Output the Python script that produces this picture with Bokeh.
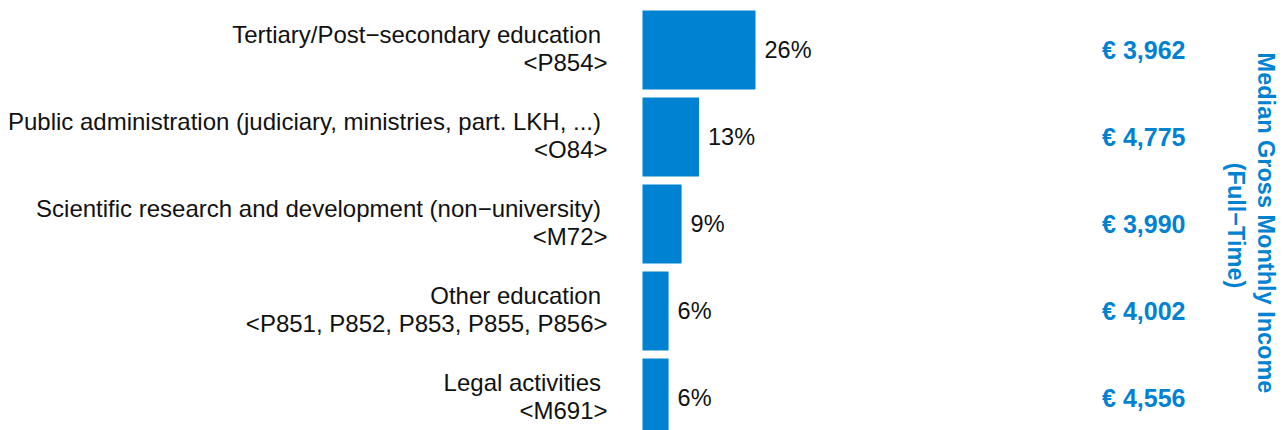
import math
from bokeh.plotting import figure
from bokeh.models import ColumnDataSource, Range1d
from bokeh.core.properties import value
from bokeh.embed import file_html
from bokeh.resources import INLINE

# ---- data ----
categories = [
    "Tertiary/Post\u2212secondary education",
    "Public administration (judiciary, ministries, part. LKH, ...)",
    "Scientific research and development (non\u2212university)",
    "Other education",
    "Legal activities",
]
codes = ["<P854>", "<O84>", "<M72>", "<P851, P852, P853, P855, P856>", "<M691>"]
shares = [26, 13, 9, 6, 6]
income = [3962, 4775, 3990, 4002, 4556]
title_lines = ["Median Gross Monthly Income", "(Full\u2212Time)"]

# ---- layout constants ----
W, H = 1284, 430
PX_PER_PCT = 113 / 26.0
ORIGIN_PX = 642          # frame x of bar base
ROW_PX = 87.0
FIRST_ROW_PX = 49.5      # frame y of first bar centre
BLUE = "#0082D2"
FONT = value("Liberation Sans")

idx = list(range(len(categories)))
src = ColumnDataSource(dict(
    y=idx,
    share=shares,
    cat=categories,
    code=codes,
    pct=[f"{s}%" for s in shares],
    eur=[f"\u20ac {v:,}" for v in income],
    zero=[0] * len(idx),
))

x_start = -ORIGIN_PX / PX_PER_PCT
x_end = x_start + W / PX_PER_PCT
y_top = -FIRST_ROW_PX / ROW_PX
y_bottom = y_top + H / ROW_PX

p = figure(width=W, height=H, output_backend="svg", toolbar_location=None,
           x_range=Range1d(x_start, x_end), y_range=Range1d(y_bottom, y_top),
           x_axis_type=None, y_axis_type=None, min_border=0,
           outline_line_color=None, background_fill_color="white",
           border_fill_color="white")
p.xgrid.visible = False
p.ygrid.visible = False

p.hbar(y="y", left="zero", right="share", height=79 / ROW_PX, source=src,
       fill_color=BLUE, line_color=None)

# category labels (two lines, right aligned left of bars)
p.text(x="zero", y="y", text="cat", source=src, x_offset=-41.5, y_offset=-16,
       text_align="right", text_baseline="alphabetic", text_font=FONT,
       text_font_size="24px", text_color="#111111")
p.text(x="zero", y="y", text="code", source=src, x_offset=-35, y_offset=12.5,
       text_align="right", text_baseline="alphabetic", text_font=FONT,
       text_font_size="24px", text_color="#111111")

# percentage labels
p.text(x="share", y="y", text="pct", source=src, x_offset=9, y_offset=0,
       text_align="left", text_baseline="alphabetic", text_font=FONT,
       text_font_size="23.5px", text_color="#111111")

# income labels
p.text(x="zero", y="y", text="eur", source=src, x_offset=543, y_offset=-0.5,
       text_align="right", text_baseline="alphabetic", text_font=FONT,
       text_font_size="25px", text_font_style="bold", text_color=BLUE)

# rotated right-hand title
mid = 2
p.text(x=[0], y=[mid], text=[title_lines[0]], x_offset=1265 - 642, y_offset=-1,
       angle=-math.pi / 2, text_align="center", text_baseline="alphabetic",
       text_font=FONT, text_font_size="23.5px", text_font_style="bold",
       text_color=BLUE)
p.text(x=[0], y=[mid], text=[title_lines[1]], x_offset=1235 - 642, y_offset=1.5,
       angle=-math.pi / 2, text_align="center", text_baseline="alphabetic",
       text_font=FONT, text_font_size="23.5px", text_font_style="bold",
       text_color=BLUE)

open("out.html", "w").write(file_html(p, INLINE))
